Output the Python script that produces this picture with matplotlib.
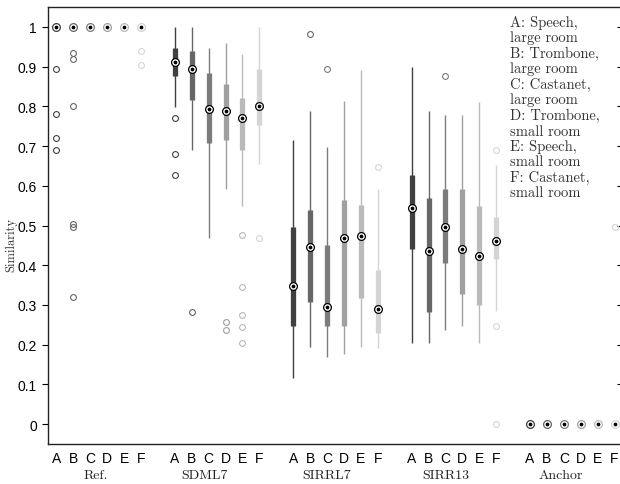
import matplotlib
matplotlib.use("Agg")
import matplotlib.pyplot as plt
import matplotlib.transforms as mtransforms

# grupos de sistemas e condições (A-F)
grupos = ["Ref.", "SDML7", "SIRRL7", "SIRR13", "Anchor"]
condicoes = ["A", "B", "C", "D", "E", "F"]
legenda = ["A: Speech,", "large room", "B: Trombone,", "large room",
           "C: Castanet,", "large room", "D: Trombone,", "small room",
           "E: Speech,", "small room", "F: Castanet,", "small room"]
yticks = [0, 0.1, 0.2, 0.3, 0.4, 0.5, 0.6, 0.7, 0.8, 0.9, 1]
yticklabels = ["0", "0.1", "0.2", "0.3", "0.4", "0.5", "0.6", "0.7", "0.8", "0.9", "1"]

# estatísticas por grupo (uma lista de 6 valores por grupo)
bigode_inf = [[1, 1, 1, 1, 1, 1],
              [0.798, 0.691, 0.469, 0.593, 0.548, 0.655],
              [0.115, 0.195, 0.168, 0.176, 0.195, 0.192],
              [0.203, 0.203, 0.238, 0.247, 0.203, 0.285],
              [0, 0, 0, 0, 0, 0]]
q1 = [[1, 1, 1, 1, 1, 1],
      [0.876, 0.815, 0.708, 0.715, 0.690, 0.754],
      [0.248, 0.308, 0.248, 0.248, 0.318, 0.230],
      [0.442, 0.283, 0.406, 0.327, 0.300, 0.416],
      [0, 0, 0, 0, 0, 0]]
mediana = [[1, 1, 1, 1, 1, 1],
           [0.911, 0.893, 0.792, 0.787, 0.770, 0.801],
           [0.348, 0.446, 0.296, 0.468, 0.474, 0.291],
           [0.543, 0.435, 0.495, 0.442, 0.424, 0.461],
           [0, 0, 0, 0, 0, 0]]
q3 = [[1, 1, 1, 1, 1, 1],
      [0.947, 0.938, 0.884, 0.855, 0.822, 0.893],
      [0.495, 0.539, 0.450, 0.565, 0.552, 0.388],
      [0.627, 0.569, 0.592, 0.592, 0.548, 0.521],
      [0, 0, 0, 0, 0, 0]]
bigode_sup = [[1, 1, 1, 1, 1, 1],
              [1.0, 1.0, 0.946, 0.960, 0.932, 1.0],
              [0.715, 0.787, 0.698, 0.814, 0.892, 0.592],
              [0.900, 0.787, 0.778, 0.779, 0.812, 0.653],
              [0, 0, 0, 0, 0, 0]]
outliers = [[[0.895, 0.78, 0.72, 0.69], [0.935, 0.92, 0.80, 0.505, 0.495, 0.32],
             [], [], [], [0.94, 0.905]],
            [[0.77, 0.68, 0.628], [0.283], [], [0.258, 0.238],
             [0.477, 0.345, 0.275, 0.245, 0.205], [0.469]],
            [[], [0.982], [0.893], [], [], [0.646]],
            [[], [], [0.877], [], [], [0.69, 0.247, 0.0]],
            [[], [], [], [], [], [0.496]]]

CORES = ["#404040", "#666666", "#7c7c7c", "#a0a0a0", "#bababa", "#d4d4d4"]
# deslocamento horizontal dos nomes dos grupos (em unidades do eixo x)
DESLOC_ROTULO = [-0.2, -0.75, -0.55, -0.5, -0.7]

fig = plt.figure(figsize=(6.2, 4.85), dpi=100)
ax = fig.add_axes([48 / 620, 1 - 445 / 485, 575 / 620, 437 / 485])

posicoes = []
for g in range(len(grupos)):
    for c in range(len(condicoes)):
        x = g * 7 + c + 1
        posicoes.append(x)
        cor = CORES[c]
        ax.vlines(x, bigode_inf[g][c], bigode_sup[g][c], color=cor, lw=1.0, zorder=2)
        ax.vlines(x, q1[g][c], q3[g][c], color=cor, lw=3.8, zorder=3)
        if outliers[g][c]:
            ax.plot([x] * len(outliers[g][c]), outliers[g][c], "o", ms=4.2,
                    mfc="none", mec=cor, mew=0.8, zorder=4)
        borda = cor if q1[g][c] == q3[g][c] else "black"
        ax.plot(x, mediana[g][c], "o", ms=5.6, mfc="white", mec=borda, mew=0.9, zorder=5)
        ax.plot(x, mediana[g][c], "o", ms=1.7, mfc="black", mec="black", zorder=6)

ax.set_xlim(0.5, 34.5)
ax.set_ylim(-0.05, 1.05)
ax.set_yticks(yticks)
ax.set_yticklabels(yticklabels, family="Liberation Sans", fontsize=10)
ax.set_xticks(posicoes)
ax.set_xticklabels(condicoes * len(grupos), family="Liberation Sans", fontsize=10)
ax.tick_params(axis="y", direction="out", length=4, width=0.8, pad=4)
ax.tick_params(axis="x", length=0, pad=5)
for s in ax.spines.values():
    s.set_linewidth(1.0)
    s.set_color("#222222")

# marcas do lado direito, voltadas para dentro
dir_ax = ax.secondary_yaxis("right")
dir_ax.set_yticks(yticks)
dir_ax.tick_params(direction="in", length=4, width=0.8, labelright=False)

trans = mtransforms.blended_transform_factory(ax.transData, ax.transAxes)
for g, nome in enumerate(grupos):
    ax.text(g * 7 + 3.5 + DESLOC_ROTULO[g], -0.071, nome, transform=trans,
            ha="center", va="center", family="cmr10", fontsize=10, color="#222222")

fig.text(11 / 620, 1 - 245 / 485, "Similarity", rotation=90, ha="center", va="center",
         family="cmr10", fontsize=9, color="#333333")

fig.text(510 / 620, 1 - 16 / 485, "\n".join(legenda), ha="left", va="top",
         family="cmr10", fontsize=10.5, linespacing=1.145, color="#333333")

fig.savefig("out.png", dpi=100)
